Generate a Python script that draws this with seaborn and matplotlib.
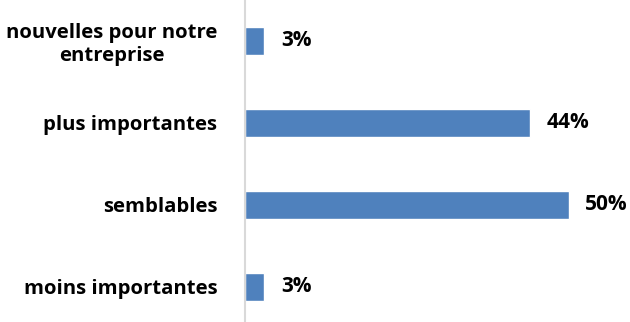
import matplotlib
matplotlib.use("Agg")
import matplotlib.pyplot as plt
import seaborn as sns
import pandas as pd

categories = ["nouvelles pour notre\nentreprise", "plus importantes", "semblables", "moins importantes"]
values = [3, 44, 50, 3]
labels = ["3%", "44%", "50%", "3%"]

df = pd.DataFrame({"cat": categories, "val": values})

sns.set_style("white")
plt.rcParams["font.family"] = ["Open Sans", "DejaVu Sans"]
plt.rcParams["font.weight"] = "bold"

fig = plt.figure(figsize=(6.3, 3.22), dpi=100)
ax = fig.add_axes([0.389, 0.0, 0.611, 1.0])

sns.barplot(data=df, x="val", y="cat", orient="h", color="#4F81BD",
            saturation=1, width=0.34, ax=ax)

for i, (v, t) in enumerate(zip(values, labels)):
    ax.text(v + 2.6, i, t, va="center", ha="left", fontsize=15,
            fontweight="bold", color="black")

ax.set_xlim(0, 59.5)
ax.set_ylim(3.43, -0.5)
ax.set_xlabel("")
ax.set_ylabel("")
ax.set_xticks([])
ax.tick_params(axis="y", length=0, pad=20, labelsize=14.6, labelcolor="black")
for lab in ax.get_yticklabels():
    lab.set_fontweight("bold")
    lab.set_multialignment("center")
    lab.set_linespacing(1.2)

for s in ["top", "right", "bottom"]:
    ax.spines[s].set_visible(False)
ax.spines["left"].set_color("#d9d9d9")
ax.spines["left"].set_linewidth(1.5)

fig.savefig("out.png", dpi=100)
